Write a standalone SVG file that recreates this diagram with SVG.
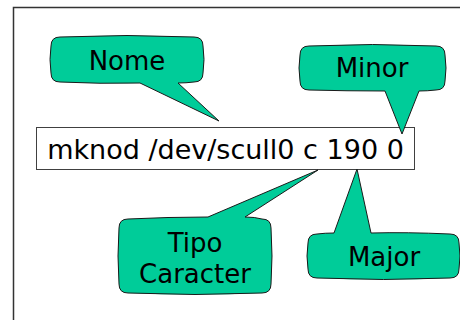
<svg xmlns="http://www.w3.org/2000/svg" width="460" height="320" viewBox="0 0 460 320">
  <style>
    .frame { fill: #ffffff; stroke: #333333; stroke-width: 1.5; }
    .cmd { fill: #ffffff; stroke: #404040; stroke-width: 1; }
    .callout { fill: #00cc99; stroke: #1a1a1a; stroke-width: 1; stroke-linejoin: miter; }
    .label { font-family: "DejaVu Sans", Verdana, sans-serif; font-size: 26px; fill: #000000; text-anchor: middle; }
    .cmdtext { font-family: "DejaVu Sans", Verdana, sans-serif; font-size: 27px; fill: #000000; text-anchor: middle; }
  </style>

  <rect width="460" height="320" fill="#ffffff"/>
  <!-- page frame, cropped at the right and bottom -->
  <rect class="frame" x="13.5" y="7.5" width="470" height="330"/>

  <g id="command">
    <rect class="cmd" x="36.5" y="127.5" width="378" height="42"/>
    <text class="cmdtext" x="225.5" y="159">mknod /dev/scull0 c 190 0</text>
  </g>

  <g id="nome">
    <path class="callout" d="M 60,37 Q 127,34 194,37 Q 203,37 203,46 Q 205,59.5 203,73 Q 203,82 194,82 Q 186,83 178,83 L 219,121 L 140,83 Q 100,84 60,82 Q 51,82 51,73 Q 49,59.5 51,46 Q 51,37 60,37 Z"/>
    <text class="label" x="127" y="70">Nome</text>
  </g>

  <g id="minor">
    <path class="callout" d="M 309,46 Q 372.5,43 436,46 Q 445,46 445,55 Q 447,68 445,81 Q 445,90 436,90 Q 427,91 419,91 L 402,134 L 385,91 Q 347,91 309,90 Q 300,90 300,81 Q 298,68 300,55 Q 300,46 309,46 Z"/>
    <text class="label" x="372" y="77">Minor</text>
  </g>

  <g id="tipo">
    <path class="callout" d="M 128,219 Q 168,217 208,217 L 318,170 L 245,217 Q 255,217 262,219 Q 271,219 271,228 Q 273,256 271,284 Q 271,293 262,293 Q 195,296 128,293 Q 119,293 119,284 Q 117,256 119,228 Q 119,219 128,219 Z"/>
    <text class="label" x="195" y="252">Tipo</text>
    <text class="label" x="195" y="283">Caracter</text>
  </g>

  <g id="major">
    <path class="callout" d="M 317,234 Q 325,233 334,233 L 357,169 L 371,233 Q 406,232 450,234 Q 459,234 459,243 Q 461,256 459,269 Q 459,278 450,278 Q 383.5,281 317,278 Q 308,278 308,269 Q 306,256 308,243 Q 308,234 317,234 Z"/>
    <text class="label" x="384" y="266">Major</text>
  </g>
</svg>
